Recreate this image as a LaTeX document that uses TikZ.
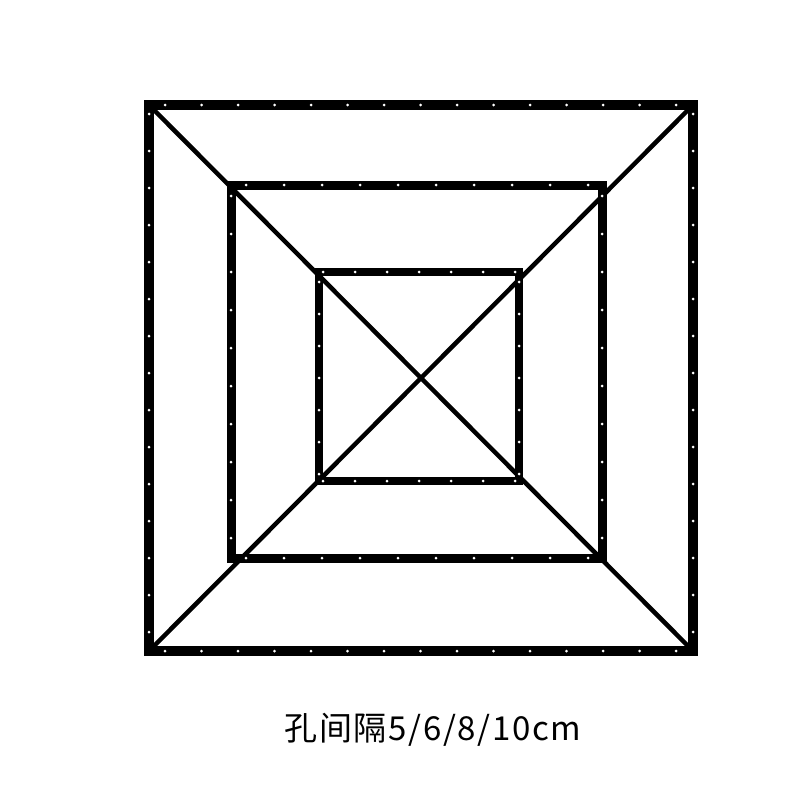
\documentclass[tikz,border=0pt]{standalone}
\usepackage{fontspec}
\newfontfamily\cjk[LetterSpace=5]{Noto Sans CJK SC}
\usetikzlibrary{positioning}

\tikzset{
  bar/.style={line width=#1, draw=black, line join=miter},
  diag/.style={line width=4.5pt, draw=black},
  hole/.style={fill=white, draw=none},
}

\begin{document}
\begin{tikzpicture}[x=1pt,y=-1pt]

  \useasboundingbox (0,0) rectangle (800,800);

  % corners of the three frames
  \coordinate (O1) at (149,105);
  \coordinate (O2) at (693,651);
  \coordinate (M1) at (231,185);
  \coordinate (M2) at (602,558);
  \coordinate (I1) at (319,272);
  \coordinate (I2) at (519,481);

  \draw [diag] (O1) -- (O2);
  \draw [diag] (O1 -| O2) -- (O1 |- O2);

  \draw [bar=10pt] (O1) rectangle (O2);
  \draw [bar=9pt] (M1) rectangle (M2);
  \draw [bar=8pt] (I1) rectangle (I2);

  % holes
  \foreach \t in {0,...,14} {
    \fill [hole] (165+36.5*\t,105) circle (1.5);
    \fill [hole] (165+36.5*\t,651) circle (1.5);
    \fill [hole] (149,114+37*\t) circle (1.5);
    \fill [hole] (693,114+37*\t) circle (1.5);
  }
  \foreach \t in {0,...,9} {
    \fill [hole] (246+38*\t,185) circle (1.5);
    \fill [hole] (246+38*\t,558) circle (1.5);
    \fill [hole] (231,196+38*\t) circle (1.5);
    \fill [hole] (602,196+38*\t) circle (1.5);
  }
  \foreach \t in {0,...,6} {
    \fill [hole] (323+32*\t,272) circle (1.5);
    \fill [hole] (323+32*\t,481) circle (1.5);
    \fill [hole] (319,282+32*\t) circle (1.5);
    \fill [hole] (519,282+32*\t) circle (1.5);
  }

  \node (cap) at (433,730) {\cjk\fontsize{33}{38}\selectfont 孔间隔5/6/8/10cm};

\end{tikzpicture}
\end{document}
